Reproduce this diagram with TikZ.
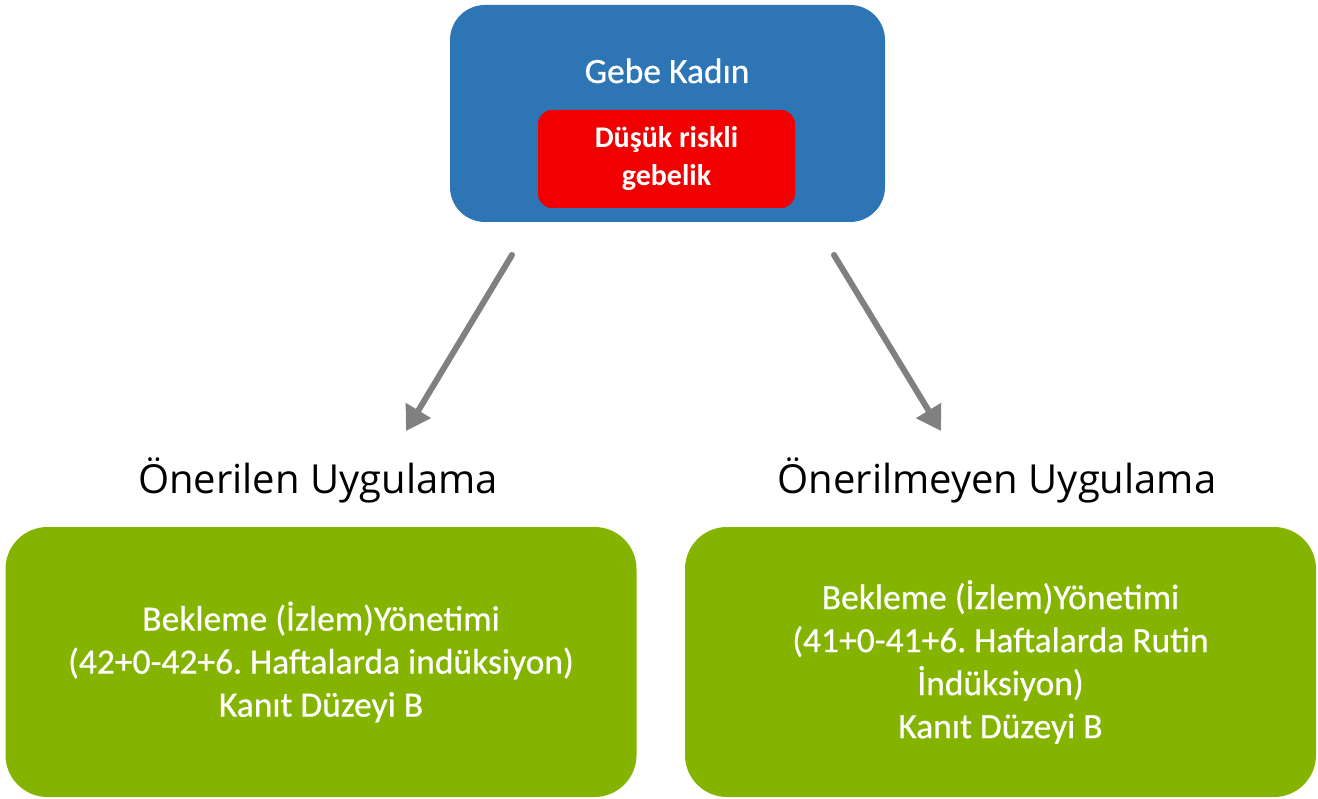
\documentclass[tikz,border=0pt]{standalone}
\usepackage{fontspec}
\setmainfont{Carlito}
\newfontfamily\heavyfont{Carlito}[FakeBold=0.6]
\newfontfamily\labelfont{Open Sans}
\usetikzlibrary{arrows.meta}
\frenchspacing
\definecolor{boxblue}{RGB}{46,117,182}
\definecolor{boxred}{RGB}{240,0,0}
\definecolor{boxgreen}{RGB}{132,180,0}
\definecolor{arrowgray}{RGB}{128,128,128}
\tikzset{
  rbox/.style={rectangle, align=center, text=white, inner sep=0pt},
  bluebox/.style={rbox, fill=boxblue, minimum width=435pt, minimum height=217pt, rounded corners=35pt},
  redbox/.style={rbox, fill=boxred, minimum width=257pt, minimum height=98pt, rounded corners=14pt,
    font=\fontsize{30}{38}\selectfont\bfseries},
  greenbox/.style={rbox, fill=boxgreen, minimum width=631pt, minimum height=270pt, rounded corners=42pt,
    font=\heavyfont\fontsize{35.5}{43}\selectfont},
  headlabel/.style={inner sep=0pt, text=black, font=\labelfont\fontsize{40}{48}\selectfont},
  titletext/.style={inner sep=0pt, text=white, font=\heavyfont\fontsize{35.5}{43}\selectfont},
  grayarrow/.style={draw=arrowgray, line width=6pt, line cap=round,
    -{Triangle[length=24pt,width=28pt]}}
}
\begin{document}
\begin{tikzpicture}[x=1pt,y=-1pt]
\useasboundingbox (0,0) rectangle (1318,799);
\node[bluebox] (blue) at (667.5,113.5) {};
\node[titletext, anchor=base] (title) at (667,83) {Gebe Kadın};
\node[redbox] (red) at (666.5,159) {Düşük riskli\\gebelik};
\node[headlabel] (lbl1) at (318,480) {Önerilen Uygulama};
\node[headlabel] (lbl2) at (997,480) {Önerilmeyen Uygulama};
\node[greenbox] (g1) at (321,662) {Bekleme (İzlem)Yönetimi\\(42+0-42+6. Haftalarda indüksiyon)\\Kanıt Düzeyi B};
\node[greenbox] (g2) at (1000.5,662) {Bekleme (İzlem)Yönetimi\\(41+0-41+6. Haftalarda Rutin\\İndüksiyon)\\Kanıt Düzeyi B};
\coordinate (s1) at (512,255);
\coordinate (e1) at (406,431);
\coordinate (s2) at (834,255);
\coordinate (e2) at (941,431);
\draw[grayarrow] (s1) -- (e1);
\draw[grayarrow] (s2) -- (e2);
\end{tikzpicture}
\end{document}
